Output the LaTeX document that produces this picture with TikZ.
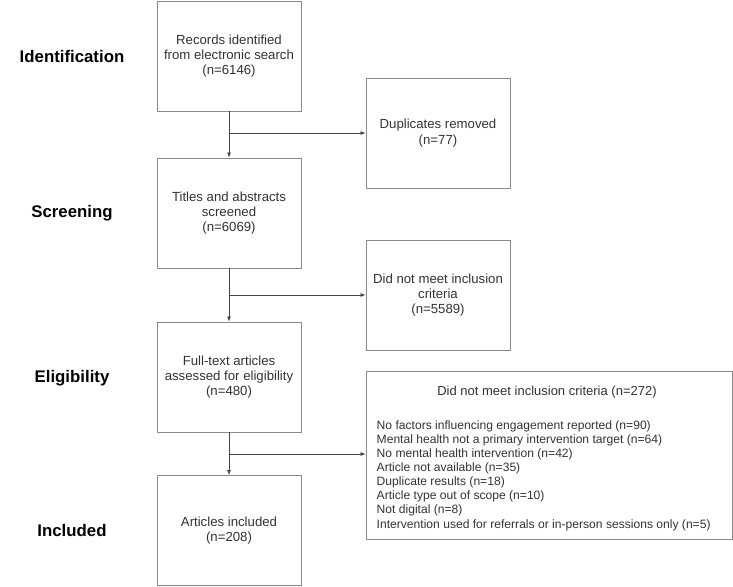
\documentclass[tikz,border=0pt]{standalone}
\usepackage{fontspec}
\setmainfont{Liberation Sans}
\usetikzlibrary{arrows.meta,calc}
\definecolor{txt}{HTML}{333333}
\definecolor{edge}{HTML}{8A8A8A}
\definecolor{conn}{HTML}{444444}
\begin{document}
\begin{tikzpicture}[x=1pt,y=-1pt,
  flowbox/.style={draw=edge,line width=0.9pt,minimum width=144pt,minimum height=110pt,inner sep=0pt,align=center,text=txt,font=\fontsize{13.2}{15.3}\selectfont},
  phase/.style={font=\fontsize{16.8}{18}\selectfont\bfseries,text=black,inner sep=0pt},
  arr/.style={draw=conn,line width=0.7pt,-{Latex[length=5pt,width=4pt]}},
  listline/.style={anchor=base west,inner sep=0pt,text=txt,font=\fontsize{12.1}{14}\selectfont}]
\useasboundingbox (0,0) rectangle (733,586);

\node[phase] (pid) at (72,56) {Identification};
\node[phase] (psc) at (72,213) {Screening};
\node[phase] (pel) at (72,378) {Eligibility};
\node[phase] (pin) at (72,530) {Included};

\node[flowbox] (b1) at (229,56) {Records identified\\from electronic search\\(n=6146)};
\node[flowbox] (b2) at (229,213) {Titles and abstracts\\screened\\(n=6069)};
\node[flowbox] (b3) at (229,377) {Full-text articles\\assessed for eligibility\\(n=480)};
\node[flowbox] (b4) at (229,530.5) {Articles included\\(n=208)};

\node[flowbox] (dup) at (438,133) {Duplicates removed\\(n=77)};
\node[flowbox] (ex1) at (438,295) {Did not meet inclusion\\criteria\\(n=5589)};
\node[flowbox,minimum width=366pt,minimum height=168pt] (ex2) at (549,455) {};

\node[inner sep=0pt,text=txt,font=\fontsize{13}{15}\selectfont] (ex2t) at (547,392.5) {Did not meet inclusion criteria (n=272)};
\foreach \t [count=\i] in {
  No factors influencing engagement reported (n=90),
  Mental health not a primary intervention target (n=64),
  No mental health intervention (n=42),
  Article not available (n=35),
  Duplicate results (n=18),
  Article type out of scope (n=10),
  Not digital (n=8),
  Intervention used for referrals or in-person sessions only (n=5)}
  \node[listline] (l\i) at (376.5,{429+(\i-1)*14.15}) {\t};

\coordinate (j1) at (b1.south |- dup.west);
\coordinate (j2) at (b2.south |- ex1.west);
\coordinate (j3) at (229,454);
\coordinate (e3) at (ex2.west |- j3);

\draw[arr] (b1.south) -- (b2.north);
\draw[arr] (b2.south) -- (b3.north);
\draw[arr] (b3.south) -- (b4.north);
\draw[arr] (j1) -- (dup.west);
\draw[arr] (j2) -- (ex1.west);
\draw[arr] (j3) -- (e3);
\end{tikzpicture}
\end{document}
